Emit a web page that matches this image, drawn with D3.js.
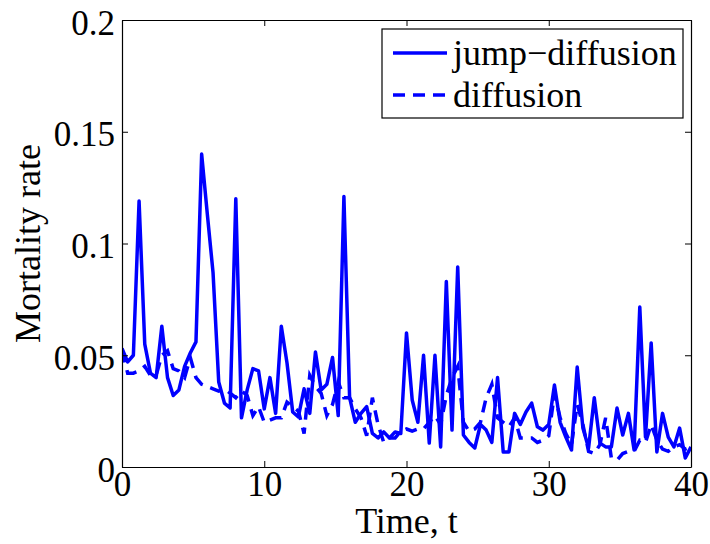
<!DOCTYPE html>
<html>
<head>
<meta charset="utf-8">
<script src="https://cdn.jsdelivr.net/npm/d3@7"></script>
<style>
  body { margin: 0; background: #fff; }
  svg text { font-family: "Liberation Serif", "DejaVu Serif", serif; fill: #000; }
</style>
</head>
<body>
<svg id="chart" width="710" height="544"></svg>
<script>
// time grid: step of 0.4 from 0 to 40
let times = d3.range(0, 101).map(i => +(i * 0.4).toFixed(1))

// jump-diffusion mortality rate (solid)
let jumpDiffusion = [0.053, 0.047, 0.050, 0.119, 0.055, 0.042, 0.040, 0.063, 0.040, 0.032,
  0.0345, 0.045, 0.051, 0.056, 0.140, 0.113, 0.087, 0.038, 0.0286, 0.0264,
  0.120, 0.022, 0.0345, 0.044, 0.043, 0.026, 0.040, 0.024, 0.063, 0.0465,
  0.0246, 0.0224, 0.035, 0.024, 0.0515, 0.0345, 0.037, 0.049, 0.023, 0.121,
  0.031, 0.020, 0.024, 0.027, 0.015, 0.013, 0.0157, 0.013, 0.0157, 0.015,
  0.060, 0.030, 0.020, 0.050, 0.0107, 0.050, 0.009, 0.083, 0.0165, 0.0895,
  0.0143, 0.011, 0.0085, 0.019, 0.0165, 0.011, 0.040, 0.0067, 0.0067, 0.024,
  0.019, 0.0246, 0.0286, 0.018, 0.0165, 0.019, 0.0367, 0.020, 0.0134, 0.0076,
  0.0447, 0.0174, 0.0085, 0.031, 0.0107, 0.009, 0.009, 0.0264, 0.0143, 0.024,
  0.0076, 0.0716, 0.0134, 0.0555, 0.0067, 0.024, 0.0134, 0.009, 0.0174, 0.004,
  0.009]

// diffusion mortality rate (dashed)
let diffusion = [0.052, 0.042, 0.042, 0.043, 0.045, 0.041, 0.041, 0.050, 0.052, 0.044,
  0.043, 0.040, 0.049, 0.040, 0.037, 0.036, 0.035, 0.034, 0.035, 0.033,
  0.031, 0.034, 0.032, 0.023, 0.027, 0.020, 0.021, 0.022, 0.022, 0.029,
  0.027, 0.025, 0.015, 0.041, 0.036, 0.033, 0.023, 0.028, 0.038, 0.031,
  0.031, 0.026, 0.022, 0.014, 0.031, 0.019, 0.011, 0.013, 0.013, 0.016,
  0.017, 0.016, 0.017, 0.017, 0.020, 0.023, 0.019, 0.032, 0.040, 0.045,
  0.020, 0.016, 0.017, 0.020, 0.031, 0.037, 0.022, 0.020, 0.018, 0.022,
  0.013, 0.013, 0.013, 0.011, 0.012, 0.014, 0.033, 0.022, 0.015, 0.010,
  0.028, 0.019, 0.007, 0.006, 0.010, 0.022, 0.004, 0.003, 0.006, 0.007,
  0.007, 0.012, 0.011, 0.019, 0.012, 0.008, 0.007, 0.009, 0.010, 0.008,
  0.009]

let xTicks = [0, 10, 20, 30, 40]
let yTicks = [0, 0.05, 0.1, 0.15, 0.2]
let yTickLabels = ['0', '0.05', '0.1', '0.15', '0.2']
let seriesNames = ['jump\u2212diffusion', 'diffusion']

let margin = {left: 122, right: 19, top: 20, bottom: 77}
let width = 710, height = 544
let svg = d3.select('#chart')

let x = d3.scaleLinear().domain([0, 40]).range([margin.left, width - margin.right])
let y = d3.scaleLinear().domain([0, 0.2]).range([height - margin.bottom, margin.top])

let blue = '#0000ff'
let serif = '"Liberation Serif", "DejaVu Serif", serif'
let tickFont = 35
let labelFont = 36
let lineW = 3.5

// clip lines to the axes box
svg.append('clipPath').attr('id', 'clip')
  .append('rect')
  .attr('x', x(0)).attr('y', y(0.2))
  .attr('width', x(40) - x(0)).attr('height', y(0) - y(0.2))

let line = d3.line()
  .x((d, i) => x(times[i]))
  .y(d => y(d))

svg.append('path')
  .datum(diffusion)
  .attr('d', line)
  .attr('clip-path', 'url(#clip)')
  .attr('fill', 'none')
  .attr('stroke', blue)
  .attr('stroke-width', lineW)
  .attr('stroke-dasharray', '12,8')

svg.append('path')
  .datum(jumpDiffusion)
  .attr('d', line)
  .attr('clip-path', 'url(#clip)')
  .attr('fill', 'none')
  .attr('stroke', blue)
  .attr('stroke-width', lineW)
  .attr('stroke-linejoin', 'round')

// axes, matlab style: ticks pointing in, on all four sides
let tickLen = 6
let xBottom = svg.append('g')
  .attr('transform', `translate(0,${y(0)})`)
  .call(d3.axisBottom(x).tickValues(xTicks).tickSize(-tickLen).tickPadding(tickLen + 4).tickSizeOuter(0))
svg.append('g')
  .attr('transform', `translate(0,${y(0.2)})`)
  .call(d3.axisTop(x).tickValues(xTicks).tickSize(-tickLen).tickFormat('').tickSizeOuter(0))
let yLeft = svg.append('g')
  .attr('transform', `translate(${x(0)},0)`)
  .call(d3.axisLeft(y).tickValues(yTicks).tickSize(-tickLen).tickPadding(tickLen + 1).tickSizeOuter(0)
    .tickFormat((d, i) => yTickLabels[i]))
svg.append('g')
  .attr('transform', `translate(${x(40)},0)`)
  .call(d3.axisRight(y).tickValues(yTicks).tickSize(-tickLen).tickFormat('').tickSizeOuter(0))

svg.selectAll('g').attr('font-family', serif).attr('font-size', tickFont)
svg.selectAll('.domain').attr('stroke', '#000').attr('stroke-width', 1.2)
svg.selectAll('.tick line').attr('stroke', '#000').attr('stroke-width', 1)
svg.selectAll('.tick text')
  .style('font-family', serif)
  .style('font-size', tickFont + 'px')
  .attr('fill', '#000')

xBottom.selectAll('.tick text').attr('dy', '0.55em')
yLeft.selectAll('.tick text').attr('dy', '0.4em')

// axis titles
svg.append('text')
  .attr('x', (x(0) + x(40)) / 2)
  .attr('y', 533)
  .attr('text-anchor', 'middle')
  .style('font-family', serif)
  .style('font-size', labelFont + 'px')
  .text('Time, t')

svg.append('text')
  .attr('transform', `translate(40,${(y(0) + y(0.2)) / 2}) rotate(-90)`)
  .attr('text-anchor', 'middle')
  .style('font-family', serif)
  .style('font-size', labelFont + 'px')
  .text('Mortality rate')

// legend
let legend = svg.append('g')
legend.append('rect')
  .attr('x', 382).attr('y', 29)
  .attr('width', 301).attr('height', 89)
  .attr('fill', '#fff')
  .attr('stroke', '#000')
  .attr('stroke-width', 1.2)

seriesNames.forEach((name, i) => {
  let ly = 53 + i * 42
  legend.append('line')
    .attr('x1', 393).attr('x2', 447)
    .attr('y1', ly).attr('y2', ly)
    .attr('stroke', blue)
    .attr('stroke-width', lineW)
    .attr('stroke-dasharray', i === 0 ? null : '12,8')
  legend.append('text')
    .attr('x', 453)
    .attr('y', ly + 12)
    .style('font-family', serif)
    .style('font-size', labelFont + 'px')
    .text(name)
})
</script>
</body>
</html>
